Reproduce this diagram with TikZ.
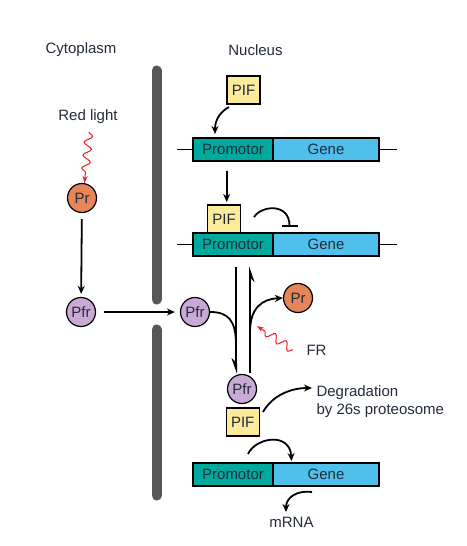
\documentclass[tikz,border=0pt]{standalone}
\usepackage{fontspec}
\setmainfont{Liberation Sans}
\usetikzlibrary{arrows.meta,decorations.pathmorphing}
\definecolor{txt}{HTML}{232B3B}
\definecolor{promocol}{HTML}{00A99D}
\definecolor{genecol}{HTML}{4FBFEC}
\definecolor{pifcol}{HTML}{FBEB9B}
\definecolor{prcol}{HTML}{E5855A}
\definecolor{pfrcol}{HTML}{C9A9D6}
\definecolor{memcol}{HTML}{555759}
\definecolor{redcol}{HTML}{ED1C24}
\begin{document}
\begin{tikzpicture}[x=1pt,y=-1pt,
  font=\fontsize{15}{18}\selectfont,
  every node/.style={text=txt},
  box/.style={draw=black, line width=1.2pt, inner sep=0pt, minimum height=23pt},
  promo/.style={box, fill=promocol, minimum width=80pt},
  gene/.style={box, fill=genecol, minimum width=106pt},
  pif/.style={draw=black, line width=1.2pt, fill=pifcol, inner sep=0pt, minimum width=33pt, minimum height=28pt},
  mol/.style={circle, draw=black, line width=1.2pt, inner sep=0pt, minimum size=29pt},
  prmol/.style={mol, fill=prcol},
  pfrmol/.style={mol, fill=pfrcol},
  arr/.style={line width=1.8pt, -{Stealth[length=8pt,width=7pt]}},
  harp/.style={line width=2pt, -{Stealth[length=13pt,width=9pt,harpoon,swap]}},
  dna/.style={line width=1pt},
  memb/.style={line width=10pt, line cap=round, draw=memcol},
  light/.style={draw=redcol, line width=1pt, decorate,
    decoration={snake, amplitude=4pt, segment length=13pt, post length=7pt},
    -{Stealth[length=7pt,width=5pt]}, redcol}
]
\useasboundingbox (0,0) rectangle (466,546);

% labels
\node (cyto) at (81,50) {Cytoplasm};
\node (nuc) at (255.5,50) {Nucleus};
\node (red) at (88,117) {Red light};

% membrane
\coordinate (m1) at (156.5,70.5);
\coordinate (m2) at (156.5,299.5);
\coordinate (m3) at (156.5,329.5);
\coordinate (m4) at (156.5,495.5);
\draw[memb] (m1) -- (m2);
\draw[memb] (m3) -- (m4);

% cytoplasm molecules
\node[prmol] (prL) at (82,198) {Pr};
\node[pfrmol] (pfrL) at (81,312) {Pfr};
\node[pfrmol] (pfrM) at (195,312) {Pfr};
\coordinate (rl1) at (89,132);
\coordinate (rl2) at (84.5,183);
\draw[light] (rl1) -- (rl2);
\draw[arr, shorten <=6pt, shorten >=3pt] (prL) -- (pfrL);
\draw[arr, shorten <=8pt, shorten >=5pt] (pfrL) -- (pfrM);

% row 1
\node[pif] (pif1) at (243.5,90) {PIF};
\node[promo] (pro1) at (233,149.5) {Promotor};
\node[gene] (gen1) at (326,149.5) {Gene};
\coordinate (l1a) at (177,149.5);
\coordinate (l1b) at (397,149.5);
\draw[dna] (l1a) -- (pro1.west);
\draw[dna] (gen1.east) -- (l1b);
\coordinate (a1) at (229,107);
\coordinate (a1e) at (215,134);
\draw[arr] (a1) .. controls (220,112) and (215,120) .. (a1e);

% arrow row1 -> row2
\coordinate (d1) at (226.7,170.5);
\coordinate (d1e) at (226.7,202);
\draw[arr] (d1) -- (d1e);

% row 2
\node[pif] (pif2) at (224,219) {PIF};
\node[promo] (pro2) at (233,244.5) {Promotor};
\node[gene] (gen2) at (326,244.5) {Gene};
\coordinate (l2a) at (177,244.5);
\coordinate (l2b) at (397,244.5);
\draw[dna] (l2a) -- (pro2.west);
\draw[dna] (gen2.east) -- (l2b);
\coordinate (in1) at (254,217);
\coordinate (in1e) at (289.5,227);
\draw[line width=1.8pt, -{Bar[width=16pt]}] (in1) .. controls (262,205) and (289.5,203) .. (in1e);

% conversion arrows
\coordinate (dn1) at (236,267);
\coordinate (dn2) at (236,374);
\coordinate (up1) at (250,373);
\coordinate (up2) at (250,266);
\coordinate (br) at (250,332);
\draw[harp] (dn1) -- (dn2);
\draw[harp] (up1) -- (up2);
\draw[line width=1.8pt] (pfrM.east) .. controls (228,312) and (236,320) .. (236,345);
\node[prmol] (prR) at (298,298) {Pr};
\draw[arr] (br) .. controls (250,308) and (262,299) .. (prR.west);
\coordinate (fr1) at (293,350);
\coordinate (fr2) at (257,326);
\draw[light] (fr1) -- (fr2);
\node[anchor=west] (fr) at (303,350) {FR};

% lower complex
\node[pfrmol] (pfrB) at (242,389) {Pfr};
\node[pif] (pif3) at (242.7,422) {PIF};
\coordinate (dg1) at (263,412);
\draw[arr] (dg1) .. controls (272,396) and (290,388) .. (312,388);
\node[anchor=west, align=left] (deg) at (313,401.5) {Degradation\\by 26s proteosome};

% row 3
\node[promo] (pro3) at (233,474.5) {Promotor};
\node[gene] (gen3) at (326,474.5) {Gene};
\coordinate (b1) at (248,454);
\coordinate (b1e) at (291.5,461);
\draw[arr] (b1) .. controls (256,437) and (290,432) .. (b1e);
\coordinate (mr1) at (312,492);
\coordinate (mr1e) at (286,512);
\draw[arr] (mr1) .. controls (296,490) and (286,498) .. (mr1e);
\node (mrna) at (291.5,522) {mRNA};
\end{tikzpicture}
\end{document}
